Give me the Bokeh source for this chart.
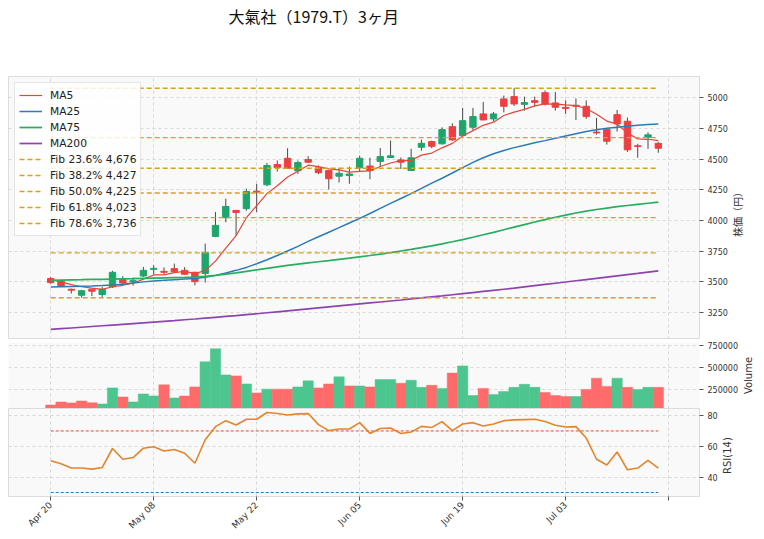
import datetime as dt
from math import pi
from bokeh.plotting import figure
from bokeh.layouts import column, row
from bokeh.models import (ColumnDataSource, Range1d, FixedTicker, Legend,
                          LegendItem, NumeralTickFormatter, Label)
from bokeh.embed import file_html
from bokeh.resources import INLINE

TITLE = "大氣社（1979.T）3ヶ月"
FONT_CJK = "Noto Sans CJK JP"
FONT = "DejaVu Sans"

dates = ["2026-04-20", "2026-04-21", "2026-04-22", "2026-04-23", "2026-04-24",
         "2026-04-27", "2026-04-28", "2026-04-30", "2026-05-01", "2026-05-07",
         "2026-05-08", "2026-05-11", "2026-05-12", "2026-05-13", "2026-05-14",
         "2026-05-15", "2026-05-18", "2026-05-19", "2026-05-20", "2026-05-21",
         "2026-05-22", "2026-05-25", "2026-05-26", "2026-05-27", "2026-05-28",
         "2026-05-29", "2026-06-01", "2026-06-02", "2026-06-03", "2026-06-04",
         "2026-06-05", "2026-06-08", "2026-06-09", "2026-06-10", "2026-06-11",
         "2026-06-12", "2026-06-15", "2026-06-16", "2026-06-17", "2026-06-18",
         "2026-06-19", "2026-06-22", "2026-06-23", "2026-06-24", "2026-06-25",
         "2026-06-26", "2026-06-29", "2026-06-30", "2026-07-01", "2026-07-02",
         "2026-07-03", "2026-07-06", "2026-07-07", "2026-07-08", "2026-07-09",
         "2026-07-10", "2026-07-13", "2026-07-14", "2026-07-15", "2026-07-16"]

open_ = [3527, 3505, 3440, 3391, 3440, 3397, 3459, 3519, 3500, 3548,
         3602, 3586, 3608, 3594, 3578, 3568, 3871, 4023, 4083, 4097,
         4240, 4292, 4457, 4508, 4406, 4498, 4430, 4408, 4362, 4367,
         4430, 4445, 4482, 4514, 4495, 4408, 4598, 4644, 4626, 4766,
         4693, 4761, 4870, 4829, 4992, 5011, 4948, 4978, 5043, 4959,
         4923, 4940, 4932, 4722, 4744, 4864, 4810, 4610, 4679, 4630]
high = [3540, 3510, 3445, 3435, 3442, 3459, 3590, 3547, 3535, 3622,
        3635, 3618, 3649, 3620, 3582, 3812, 4069, 4178, 4085, 4260,
        4300, 4470, 4490, 4590, 4490, 4525, 4450, 4412, 4430, 4440,
        4530, 4513, 4592, 4653, 4514, 4585, 4660, 4652, 4760, 4793,
        4919, 4919, 4967, 4885, 5019, 5079.2, 5011, 5011, 5060, 5048,
        4980, 4996, 4980, 4837, 4755, 4902, 4840, 4626, 4720, 4640]
low = [3485, 3460, 3405, 3370.7, 3385, 3377, 3450, 3470, 3470, 3540,
       3560, 3564, 3575, 3560, 3472, 3494, 3865, 3987, 3879, 4080,
       4069, 4280, 4400, 4425, 4380, 4470, 4380, 4254, 4310, 4300,
       4400, 4337, 4438, 4510, 4420, 4405, 4570, 4590, 4620, 4650,
       4690, 4740, 4818, 4810, 4883, 4935, 4897, 4930, 4940, 4897,
       4870, 4820, 4830, 4701, 4620, 4726, 4560, 4512, 4585, 4553]
close = [3494, 3467, 3432, 3428, 3424, 3440, 3578, 3491, 3510, 3594,
         3610, 3578, 3582, 3562, 3502, 3739, 3961, 4115, 4066, 4237,
         4232, 4449, 4433, 4427, 4473, 4476, 4390, 4341, 4386, 4380,
         4508, 4408, 4522, 4528, 4476, 4512, 4630, 4606, 4742, 4658,
         4815, 4848, 4821, 4870, 4932, 4951, 4962, 4964, 4951, 4924,
         4915, 4932, 4848, 4715, 4647, 4788, 4577, 4604, 4699, 4590]
prev_close = 3527

volume = [79000, 112000, 102000, 124000, 103000, 90000, 271000, 169000, 113000, 203000,
          180000, 305000, 158000, 180000, 282000, 564000, 710000, 417000, 406000, 315000,
          214000, 257000, 257000, 257000, 282000, 350000, 271000, 315000, 395000, 293000,
          293000, 282000, 365000, 366000, 323000, 357000, 277000, 300000, 265000, 437000,
          517000, 185000, 265000, 197000, 231000, 277000, 311000, 277000, 219000, 185000,
          174000, 174000, 254000, 380000, 288000, 380000, 277000, 254000, 277000, 277000]

ma5 = [3520, 3500, 3478, 3460, 3449, 3438.2, 3460.4, 3472.2, 3488.6, 3522.6,
       3556.6, 3556.6, 3574.8, 3585.2, 3566.8, 3592.6, 3669.2, 3775.8, 3876.6, 4023.6,
       4122.2, 4219.8, 4283.4, 4355.6, 4402.8, 4451.6, 4439.8, 4421.4, 4413.2, 4394.6,
       4401.0, 4404.6, 4440.8, 4469.2, 4488.4, 4489.2, 4533.6, 4550.4, 4593.2, 4629.6,
       4690.2, 4733.8, 4776.8, 4802.4, 4857.2, 4884.4, 4907.2, 4935.8, 4952.0, 4950.4,
       4943.2, 4937.2, 4914.0, 4866.8, 4811.4, 4786.0, 4715.0, 4666.2, 4663.0, 4651.6]
ma25 = [3459, 3461, 3463, 3465, 3467, 3470, 3474, 3480, 3490, 3500,
        3508, 3513, 3518, 3523, 3528, 3538, 3553, 3572, 3594, 3618,
        3648, 3680, 3715, 3752, 3790, 3830, 3868, 3905, 3942, 3980,
        4018, 4058, 4100, 4140, 4180, 4220, 4262, 4305, 4345, 4388,
        4432, 4475, 4512, 4545, 4572, 4595, 4615, 4634, 4652, 4672,
        4690, 4708, 4726, 4740, 4752, 4762, 4770, 4777, 4783, 4788]
ma75 = [3513, 3515, 3517, 3518, 3520, 3521, 3523, 3525, 3526, 3528,
        3530, 3532, 3534, 3536, 3539, 3545, 3553, 3563, 3574, 3586,
        3598, 3610, 3622, 3634, 3645, 3655, 3664, 3673, 3683, 3693,
        3704, 3715, 3727, 3739, 3752, 3765, 3779, 3794, 3810, 3827,
        3845, 3864, 3884, 3904, 3925, 3946, 3967, 3988, 4008, 4027,
        4045, 4062, 4077, 4090, 4102, 4113, 4123, 4132, 4141, 4150]
ma200 = [3112, 3118, 3124, 3130, 3136, 3142, 3148, 3154, 3160, 3166,
         3172, 3178, 3184, 3191, 3197, 3204, 3211, 3218, 3225, 3233,
         3240, 3248, 3256, 3264, 3272, 3280, 3288, 3296, 3304, 3312,
         3320, 3328, 3336, 3344, 3352, 3361, 3369, 3378, 3386, 3395,
         3404, 3413, 3422, 3431, 3440, 3449, 3459, 3469, 3479, 3489,
         3499, 3509, 3519, 3529, 3539, 3549, 3559, 3569, 3580, 3590]
rsi14 = [50.7, 48.7, 45.9, 45.9, 45.2, 46.3, 58.6, 51.6, 52.7, 58.8,
         59.7, 57.0, 57.9, 55.5, 49.0, 64.3, 72.8, 76.7, 73.9, 77.6,
         77.6, 82.0, 81.3, 80.4, 81.1, 81.3, 74.1, 70.2, 71.3, 71.3,
         75.4, 68.4, 71.6, 71.9, 68.4, 69.3, 73.0, 72.3, 76.1, 70.2,
         74.5, 75.4, 73.2, 74.5, 76.7, 77.2, 77.4, 77.6, 76.1, 73.7,
         72.6, 72.8, 65.4, 51.6, 47.9, 56.4, 44.8, 45.9, 50.9, 45.9]

fib_ratios = [0.0, 0.236, 0.382, 0.5, 0.618, 0.786, 1.0]
price_ticks = [3250, 3500, 3750, 4000, 4250, 4500, 4750, 5000]
volume_ticks = [250000, 500000, 750000]
rsi_ticks = [40, 60, 80]
rsi_overbought = 70
rsi_oversold = 30

# ---- colours / styles
UP = "#1fa56c"
DOWN = "#ef3e42"
VUP = "#4cc58f"
VDOWN = "#ff6b6b"
WICK = "#4a4a4a"
C_MA = {"MA5": "#e4473a", "MA25": "#2b7bb9", "MA75": "#27ae60", "MA200": "#8e44ad"}
FIB = "#d6a21a"
GRID = "#d8d8d8"
BG = "#f9f9f9"
TXT = "#333333"

n = len(dates)
xs = list(range(n))
tick_pos = list(range(0, n + 1, 10))
tick_lab = {}
for t in tick_pos:
    tick_lab[t] = dt.date.fromisoformat(dates[t]).strftime("%b %d") if t < n else ""

x_range = Range1d(-4.1, 63.0)


def style(fig):
    fig.background_fill_color = BG
    fig.border_fill_color = "white"
    fig.outline_line_color = "#dcdcdc"
    fig.xgrid.ticker = FixedTicker(ticks=tick_pos)
    for g in (fig.xgrid, fig.ygrid):
        g.grid_line_color = GRID
        g.grid_line_dash = "3 3"
        g.grid_line_width = 1
    ax = fig.yaxis[0]
    ax.axis_line_color = None
    ax.major_tick_line_color = "#555555"
    ax.major_tick_out = 4
    ax.major_tick_in = 0
    ax.minor_tick_line_color = None
    ax.major_label_text_font = FONT
    ax.major_label_text_font_size = "8px"
    ax.major_label_text_color = TXT
    ax.major_label_standoff = 4


def side_label(text, frame_h, top=0, bottom=0, font=FONT, dy=0.0):
    f = figure(frame_width=14, frame_height=frame_h, x_range=Range1d(-1, 1),
               y_range=Range1d(-1, 1), x_axis_location=None, y_axis_location=None,
               output_backend="svg", toolbar_location=None, title=None,
               min_border_left=0, min_border_right=0, min_border_top=top,
               min_border_bottom=bottom)
    f.grid.visible = False
    f.outline_line_color = None
    f.background_fill_color = "white"
    f.border_fill_color = "white"
    f.add_layout(Label(x=0, y=dy, text=text, angle=pi / 2, text_align="center",
                       text_baseline="middle", text_font=font, text_font_size="10px",
                       text_color=TXT))
    return f


# ---------------- title strip
tf = figure(frame_width=764, frame_height=76, x_range=Range1d(0, 764), y_range=Range1d(0, 76),
            x_axis_location=None, y_axis_location=None, output_backend="svg",
            toolbar_location=None, title=None, min_border=0)
tf.grid.visible = False
tf.outline_line_color = None
tf.background_fill_color = "white"
tf.border_fill_color = "white"
tf.add_layout(Label(x=228, y=61, text=TITLE, text_font=FONT_CJK, text_font_size="16px",
                    text_color="#111111", text_align="left", text_baseline="middle"))

# ---------------- price panel
p = figure(frame_width=691, frame_height=263, x_range=x_range,
           y_range=Range1d(3030, 5175), y_axis_location="right",
           output_backend="svg", toolbar_location=None, title=None,
           min_border_left=8, min_border_right=31, min_border_top=0, min_border_bottom=0)
p.xaxis.visible = False
style(p)
p.yaxis.ticker = FixedTicker(ticks=price_ticks)

body_top = [max(o, c) for o, c in zip(open_, close)]
body_bot = [min(o, c) for o, c in zip(open_, close)]
ccol = [UP if c >= o else DOWN for o, c in zip(open_, close)]
csrc = ColumnDataSource(dict(x=xs, high=high, low=low, top=body_top, bottom=body_bot, color=ccol))
p.segment(x0="x", y0="high", x1="x", y1="low", source=csrc, line_color=WICK, line_width=1)
p.vbar(x="x", width=0.62, top="top", bottom="bottom", source=csrc,
       fill_color="color", line_color="color", line_width=1)

items = []
for name, arr, w in (("MA5", ma5, 1.2), ("MA25", ma25, 1.5), ("MA75", ma75, 1.7), ("MA200", ma200, 1.7)):
    r = p.line(xs, arr, line_color=C_MA[name], line_width=w)
    items.append(LegendItem(label=name, renderers=[r]))

hi = max(high)
lo = min(low)
for r_ in fib_ratios:
    lvl = hi - r_ * (hi - lo)
    r = p.line([xs[0], xs[-1]], [lvl, lvl], line_color=FIB, line_dash="5 3", line_width=1.3)
    if 0 < r_ < 1:
        items.append(LegendItem(label=f"Fib {r_ * 100:.1f}% {lvl:,.0f}", renderers=[r]))

legend = Legend(items=items, location="top_left", margin=6, padding=4,
                spacing=0, label_height=16, glyph_height=16, glyph_width=23,
                label_standoff=8, label_text_font=FONT, label_text_font_size="10.7px",
                label_text_color="#222222", background_fill_color="white",
                background_fill_alpha=0.85, border_line_color="#cccccc")
p.add_layout(legend)
lp = side_label("株価（円）", 263, font=FONT_CJK, dy=-0.03)

# ---------------- volume panel
vmax = max(volume)
vmin = min(volume)
pv = figure(frame_width=691, frame_height=66, x_range=x_range,
            y_range=Range1d(0.5 * vmin, 1.1 * vmax), y_axis_location="right",
            output_backend="svg", toolbar_location=None, title=None,
            min_border_left=8, min_border_right=42, min_border_top=3, min_border_bottom=0)
pv.xaxis.visible = False
style(pv)
pv.outline_line_color = None
pv.yaxis.ticker = FixedTicker(ticks=volume_ticks)
pv.yaxis.formatter = NumeralTickFormatter(format="0")
prevs = [prev_close] + close[:-1]
vcol = [VUP if c > pc else VDOWN for c, pc in zip(close, prevs)]
vsrc = ColumnDataSource(dict(x=xs, v=volume, color=vcol))
pv.vbar(x="x", width=1.0, top="v", bottom=0, source=vsrc,
        fill_color="color", line_color="color", line_width=0.5)
lv = side_label("Volume", 66, top=3)

# ---------------- RSI panel
pr = figure(frame_width=691, frame_height=88, x_range=x_range,
            y_range=Range1d(27.4, 84.6), y_axis_location="right",
            output_backend="svg", toolbar_location=None, title=None,
            min_border_left=8, min_border_right=21, min_border_top=0, min_border_bottom=43)
style(pr)
pr.yaxis.ticker = FixedTicker(ticks=rsi_ticks)
xa = pr.xaxis[0]
xa.ticker = FixedTicker(ticks=tick_pos)
xa.major_label_overrides = tick_lab
xa.major_label_orientation = pi / 4
xa.axis_line_color = None
xa.major_tick_line_color = "#555555"
xa.major_tick_out = 4
xa.major_tick_in = 0
xa.minor_tick_line_color = None
xa.major_label_text_font = FONT
xa.major_label_text_font_size = "9px"
xa.major_label_text_color = TXT
xa.major_label_standoff = 3

pr.line([xs[0], xs[-1]], [rsi_overbought] * 2, line_color="#e4473a", line_dash="3 2", line_width=1)
pr.line([xs[0], xs[-1]], [rsi_oversold] * 2, line_color="#2b7bb9", line_dash="3 2", line_width=1)
pr.line(xs, rsi14, line_color="#e6842a", line_width=1.6)
lr = side_label("RSI(14)", 88, bottom=43, dy=-0.07)

layout = column(tf, row(p, lp), row(pv, lv), row(pr, lr), spacing=0)
open("out.html", "w").write(file_html(layout, INLINE))
